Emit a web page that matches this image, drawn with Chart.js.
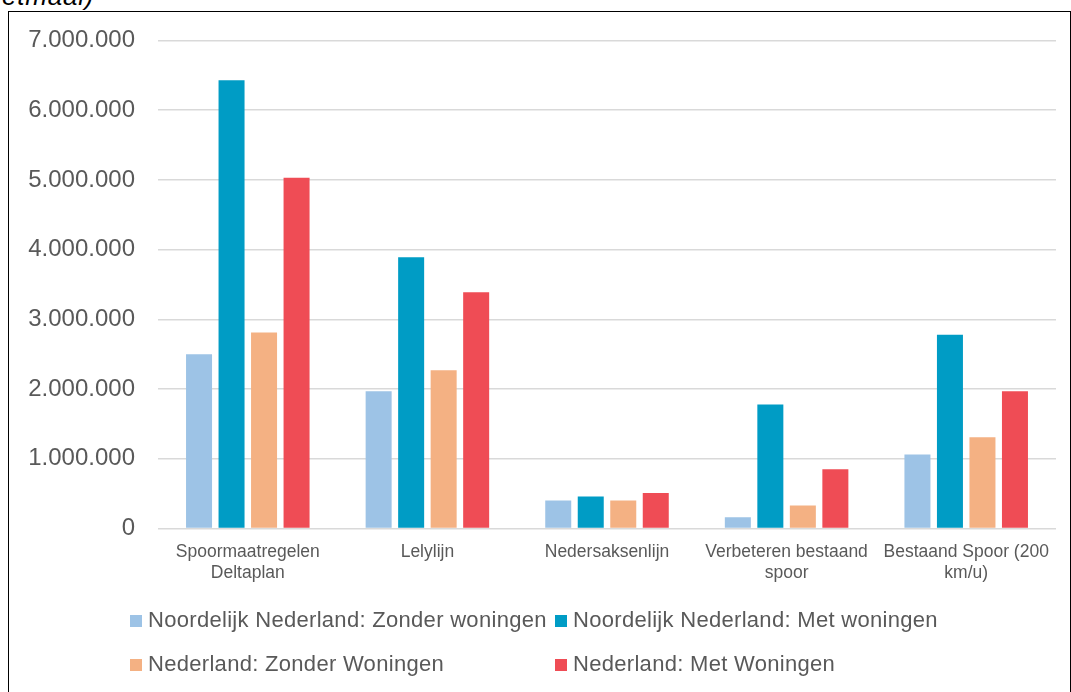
<!DOCTYPE html>
<html>
<head>
<meta charset="utf-8">
<script src="https://cdn.jsdelivr.net/npm/chart.js@4/dist/chart.umd.min.js"></script>
<style>
  html, body { margin: 0; padding: 0; background: #fff; overflow: hidden; }
  body { width: 1071px; height: 692px; position: relative; font-family: "Liberation Sans", Arial, sans-serif; }
  #caption { position: absolute; left: 2px; top: -19px; font-size: 26px; font-style: italic; font-weight: normal; letter-spacing: 0.8px; color: #000; }
  #frame { position: absolute; left: 8px; top: 11px; width: 1061px; height: 700px; border: 1px solid #000; }
  #wrap { position: absolute; left: 0; top: 0; width: 1071px; height: 692px; }
  #legend { position: absolute; left: 0; top: 0; font-size: 22px; letter-spacing: 0.3px; color: #595959; }
  .item { position: absolute; white-space: nowrap; line-height: 24px; }
  .item span.box { display: inline-block; width: 12px; height: 12px; margin-right: 6px; vertical-align: 0px; }
</style>
</head>
<body>
<div id="caption">etmaal)</div>
<div id="frame"></div>
<div id="wrap"><canvas id="chart"></canvas></div>
<div id="legend"></div>
<script>
document.addEventListener("DOMContentLoaded", function () {
    // Categories and series
    const categories = [
        ["Spoormaatregelen", "Deltaplan"],
        "Lelylijn",
        "Nedersaksenlijn",
        ["Verbeteren bestaand", "spoor"],
        ["Bestaand Spoor (200", "km/u)"]
    ];
    const seriesNames = [
        "Noordelijk Nederland: Zonder woningen",
        "Noordelijk Nederland: Met woningen",
        "Nederland: Zonder Woningen",
        "Nederland: Met Woningen"
    ];
    const noordZonder = [2500000, 1970000, 400000, 160000, 1060000];
    const noordMet = [6430000, 3890000, 460000, 1780000, 2780000];
    const nlZonder = [2810000, 2270000, 400000, 330000, 1310000];
    const nlMet = [5030000, 3390000, 510000, 850000, 1970000];
    const yTicks = [0, 1000000, 2000000, 3000000, 4000000, 5000000, 6000000, 7000000];
    const colors = ["#9DC3E6", "#009CC5", "#F4B183", "#EF4C55"];

    const values = [noordZonder, noordMet, nlZonder, nlMet];

    function formatNL(v) {
        return String(v).replace(/\B(?=(\d{3})+(?!\d))/g, ".");
    }

    const ctx = document.getElementById("chart").getContext("2d");
    new Chart(ctx, {
        type: "bar",
        data: {
            labels: categories,
            datasets: values.map((data, i) => ({
                label: seriesNames[i],
                data: data,
                backgroundColor: colors[i],
                borderWidth: 0,
                categoryPercentage: 0.724,
                barPercentage: 0.8
            }))
        },
        options: {
            responsive: true,
            maintainAspectRatio: false,
            animation: false,
            layout: { padding: { top: 40.5, left: 0, right: 15, bottom: 0 } },
            plugins: {
                legend: { display: false },
                tooltip: { enabled: false }
            },
            scales: {
                x: {
                    grid: { display: false, drawTicks: false },
                    border: { display: false },
                    ticks: {
                        color: "#595959",
                        font: { family: "Liberation Sans", size: 17.5, lineHeight: 1.2 },
                        padding: 13,
                        maxRotation: 0,
                        autoSkip: false
                    },
                    afterFit: (scale) => { scale.height = 692 - 528.5; }
                },
                y: {
                    min: 0,
                    max: 7000000,
                    afterBuildTicks: (scale) => { scale.ticks = yTicks.map(v => ({ value: v })); },
                    grid: { color: "#D9D9D9", lineWidth: 1.5, drawTicks: false },
                    border: { display: false },
                    ticks: {
                        color: "#595959",
                        font: { family: "Liberation Sans", size: 24 },
                        padding: 23,
                        callback: (v) => formatNL(v)
                    },
                    afterFit: (scale) => { scale.width = 158; }
                }
            }
        }
    });

    // Legend laid out in two columns like the original
    const legend = document.getElementById("legend");
    const cols = [130, 555];
    const rows = [608, 652];
    seriesNames.forEach((name, i) => {
        const item = document.createElement("div");
        item.className = "item";
        item.style.left = cols[i % 2] + "px";
        item.style.top = rows[Math.floor(i / 2)] + "px";
        item.innerHTML = '<span class="box" style="background:' + colors[i] + '"></span>' + name;
        legend.appendChild(item);
    });
});
</script>
</body>
</html>
